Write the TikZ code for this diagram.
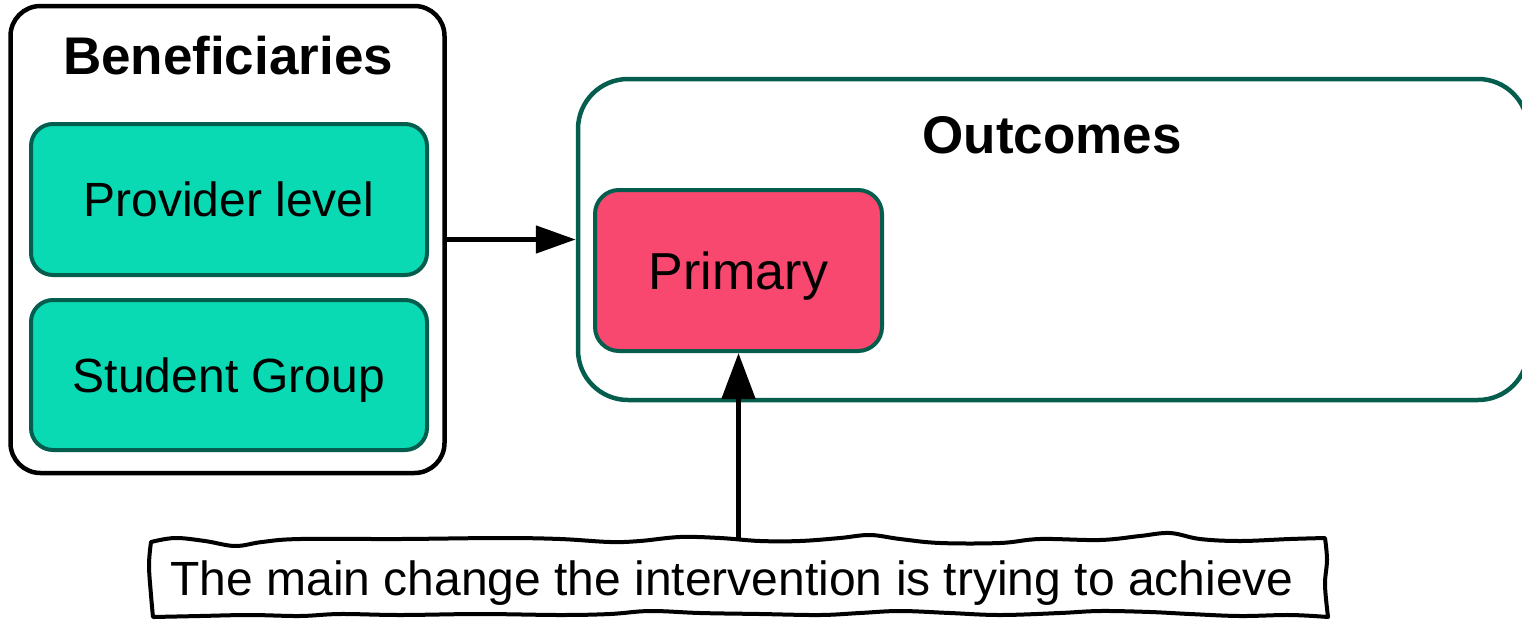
\documentclass[tikz,border=0pt]{standalone}
\usepackage{fontspec}
\setmainfont{Liberation Sans}
\usetikzlibrary{arrows.meta}

\definecolor{edgegreen}{HTML}{055E4D}
\definecolor{tealfill}{HTML}{09DAB4}
\definecolor{pinkfill}{HTML}{F9486F}

\tikzset{
  groupbox/.style={draw=black, line width=4.5pt, rounded corners=30pt, fill=white},
  outbox/.style={draw=edgegreen, line width=4.5pt, rounded corners=50pt, fill=white},
  levelbox/.style={draw=edgegreen, line width=4pt, rounded corners=22pt, fill=tealfill,
    font=\fontsize{48}{56}\selectfont, text height=34.5pt, text depth=0pt},
  primbox/.style={draw=edgegreen, line width=4pt, rounded corners=24pt, fill=pinkfill,
    font=\fontsize{52}{60}\selectfont, text height=37.5pt, text depth=0pt},
  titletext/.style={font=\fontsize{53}{61}\selectfont\bfseries, anchor=base},
  notetext/.style={font=\fontsize{48}{56}\selectfont, text height=34.5pt, text depth=0pt,
    minimum height=76pt, inner sep=0pt},
  wavyline/.style={draw=black, line width=4pt, line join=round, fill=white},
  link/.style={draw=black, line width=5pt},
}

\begin{document}
\begin{tikzpicture}[x=1pt, y=-1pt]
\useasboundingbox (0,0) rectangle (1522,624);
\clip (0,0) rectangle (1522,624);

% Beneficiaries group
\node[groupbox, minimum width=434pt, minimum height=467pt] (ben) at (227.5,239.5) {};
\node[titletext] (bentitle) at (228,74) {Beneficiaries};
\node[levelbox, minimum width=396pt, minimum height=151pt] (prov) at (229,199.5) {Provider level};
\node[levelbox, minimum width=396pt, minimum height=150pt] (stud) at (229,375) {Student Group};

% Outcomes group
\node[outbox, minimum width=950pt, minimum height=321pt] (out) at (1053,239.5) {};
\node[titletext] (outtitle) at (1052,153) {Outcomes};
\node[primbox, minimum width=287pt, minimum height=161pt] (prim) at (738.5,270.5) {Primary};

% hand-drawn note frame
\draw[wavyline]
  plot[smooth, tension=0.6] coordinates {(151,542) (175,538) (205,541) (235,546) (262,542)
    (300,539) (400,539) (500,538) (560,539) (610,542) (640,541) (680,537) (720,538)
    (760,541) (800,541) (840,538) (870,535) (900,539) (940,543) (1000,543) (1040,539)
    (1100,540) (1140,536) (1170,533) (1200,539) (1240,541) (1290,539) (1325,538)}
  -- plot[smooth, tension=0.6] coordinates {(1325,538) (1327,560) (1325,585) (1328,617)}
  -- plot[smooth, tension=0.6] coordinates {(1328,617) (1290,615) (1240,616) (1190,614)
    (1150,612) (1100,611) (1060,613) (1000,615) (950,613) (900,611) (860,613) (820,615)
    (760,614) (700,613) (650,611) (610,614) (560,615) (480,614) (400,615) (340,614)
    (300,616) (250,615) (200,616) (153,617)}
  -- plot[smooth, tension=0.6] coordinates {(153,617) (151,595) (149,565) (151,542)}
  -- cycle;
\node[notetext] (note) at (732,578) {The main change the intervention is trying to achieve};

% connectors
\draw[link, -{Triangle[length=40pt, width=27pt]}] (ben.east) -- (out.west);
\draw[link, -{Triangle[length=46pt, width=33pt]}] (note.north -| prim.south) -- (prim.south);
\end{tikzpicture}
\end{document}
